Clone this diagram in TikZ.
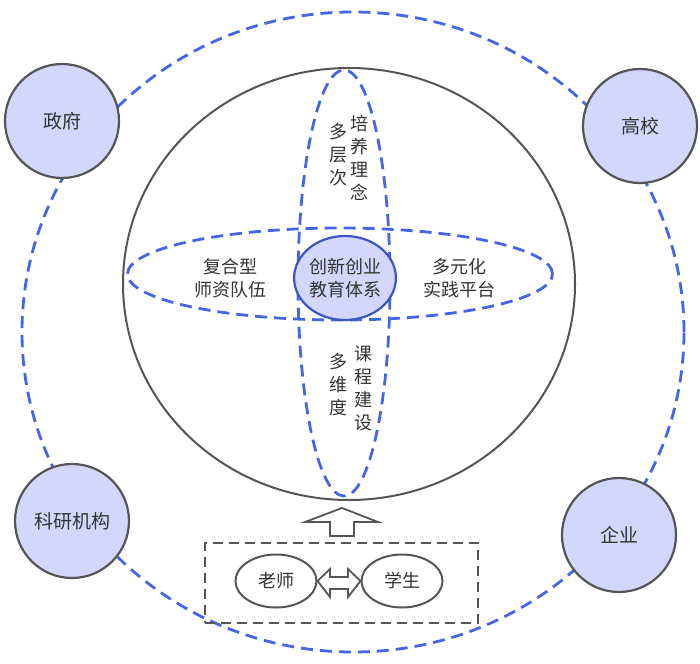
\documentclass[tikz,border=0pt]{standalone}
\usepackage{fontspec}
\setmainfont{Noto Sans CJK SC}
\usetikzlibrary{shapes.geometric}
\definecolor{bluedash}{HTML}{4466E6}
\definecolor{lightfill}{HTML}{D3D7FB}
\definecolor{darkgray}{HTML}{555555}
\definecolor{txt}{HTML}{333333}
\tikzset{
  bdash/.style={draw=bluedash,line width=2.8pt,dash pattern=on 12pt off 7pt},
  party/.style={circle,draw=darkgray,line width=2.2pt,fill=lightfill,minimum size=114pt,inner sep=0pt,font=\fontsize{19}{22}\selectfont,text=txt},
  person/.style={ellipse,draw=darkgray,line width=2pt,fill=white,minimum width=81pt,minimum height=53pt,inner sep=0pt,font=\fontsize{18}{22}\selectfont,text=txt},
  lbl/.style={align=center,font=\fontsize{18}{23}\selectfont,text=txt,inner sep=0pt},
}
\begin{document}
\begin{tikzpicture}[x=1pt,y=-1pt]
\useasboundingbox (0,0) rectangle (700,663);
% outer dashed ring
\node[ellipse,bdash,minimum width=662pt,minimum height=640pt,inner sep=0pt] (ring) at (353,332) {};
% big inner circle
\node[ellipse,draw=darkgray,line width=2pt,minimum width=452pt,minimum height=432pt,inner sep=0pt] (globe) at (349,284) {};
% vertical and horizontal ellipses
\node[ellipse,bdash,minimum width=92pt,minimum height=426pt,inner sep=0pt] (vert) at (344,283) {};
\node[ellipse,bdash,minimum width=425pt,minimum height=92pt,inner sep=0pt] (horz) at (340,274) {};
% center
\node[ellipse,draw=bluedash!85!black,line width=2.2pt,fill=lightfill,minimum width=99pt,minimum height=84pt,inner sep=0pt,lbl] (core) at (345,278) {创新创业\\教育体系};
% labels
\node[lbl] (t1a) at (338,155) {多\\层\\次};
\node[lbl] (t1b) at (359,158) {培\\养\\理\\念};
\node[lbl] (t2a) at (338,385) {多\\维\\度};
\node[lbl] (t2b) at (363,388) {课\\程\\建\\设};
\node[lbl] (tl) at (230,278) {复合型\\师资队伍};
\node[lbl] (tr) at (459,278) {多元化\\实践平台};
% corner parties
\node[party] (gov) at (62,121) {政府};
\node[party] (uni) at (640,126) {高校};
\node[party] (res) at (72,521) {科研机构};
\node[party] (ent) at (619,535) {企业};
% bottom box
\node[draw=darkgray,line width=2pt,dash pattern=on 10pt off 6pt,minimum width=273pt,minimum height=80pt,inner sep=0pt] (box) at (341.5,583) {};
\node[person] (teacher) at (276,581) {老师};
\node[person] (student) at (402,581) {学生};
% double arrow between
\draw[darkgray,line width=1.8pt,fill=white,line join=miter]
  (teacher.east) -- (330,569) -- (330,577) -- (348,577) -- (348,569) -- (student.west)
  -- (348,597) -- (348,589) -- (330,589) -- (330,597) -- cycle;
% up arrow
\coordinate (tip) at (342,508);
\draw[darkgray,line width=1.8pt,fill=white,line join=miter]
  (tip) -- (378,522) -- (354,522) -- (354,536) -- (330,536) -- (330,522) -- (305,522) -- cycle;
\end{tikzpicture}
\end{document}
